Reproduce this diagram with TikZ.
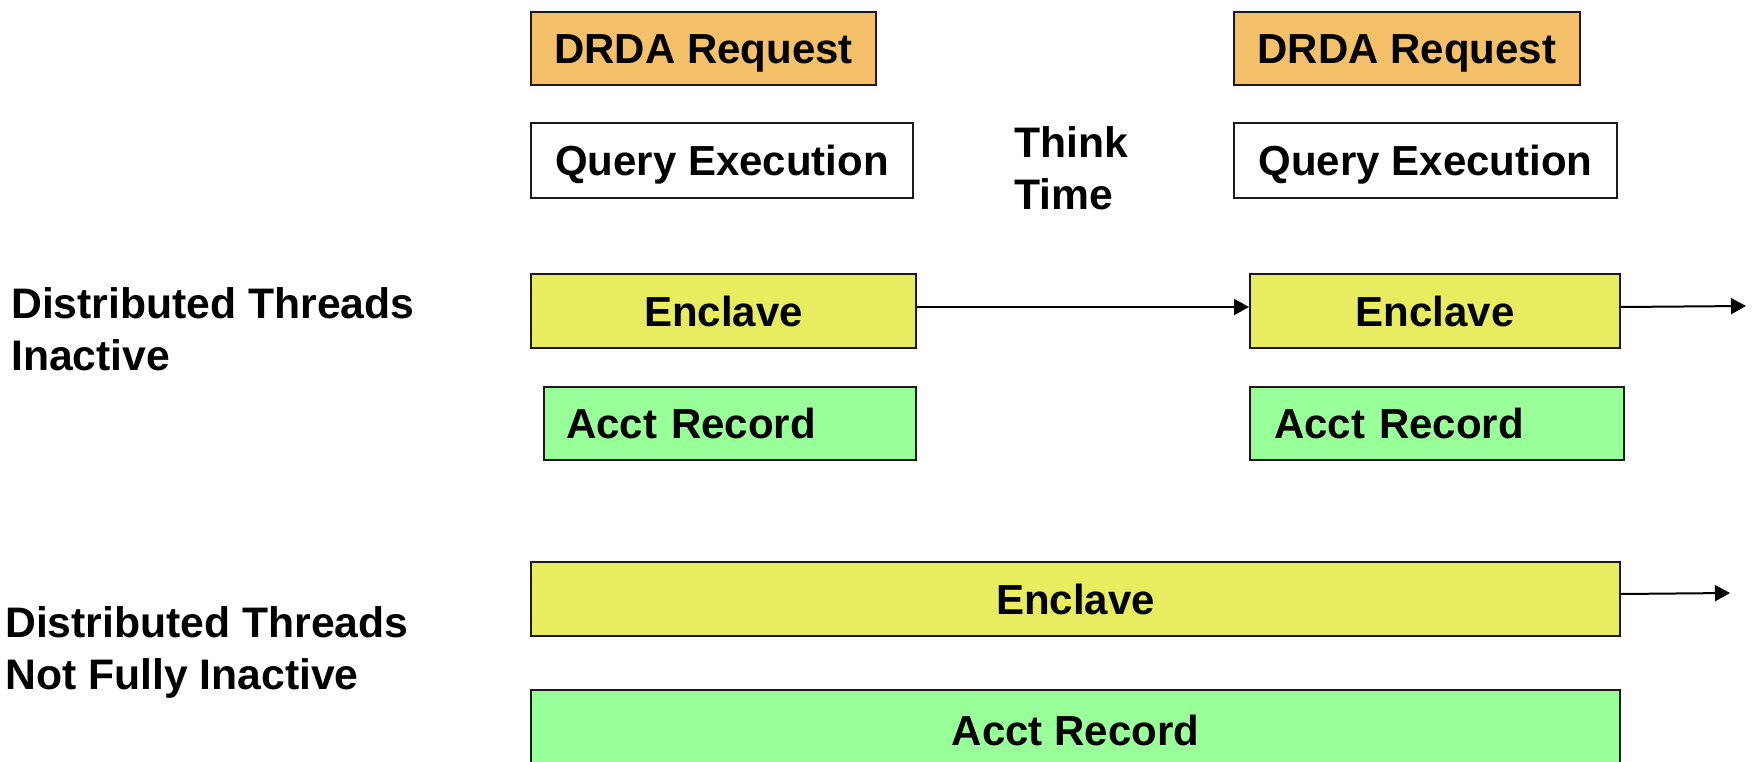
\documentclass[tikz,border=0pt]{standalone}
\usepackage{fontspec}
\setmainfont{Liberation Sans}
\usetikzlibrary{arrows.meta}
\definecolor{drdaor}{RGB}{245,192,106}
\definecolor{enclyel}{RGB}{232,236,96}
\definecolor{acctgrn}{RGB}{153,255,153}
\definecolor{edgegray}{RGB}{26,26,26}
\begin{document}
\begin{tikzpicture}[x=1pt,y=-1pt,
  every node/.style={font=\fontsize{42}{52}\selectfont\bfseries},
  tbox/.style={draw=edgegray, line width=2pt, anchor=north west, inner sep=0pt,
    text height=30pt, text depth=0pt},
  lbox/.style={tbox, align=left},
  lbl/.style={anchor=base west, inner sep=0pt, font=\fontsize{42.7}{52}\selectfont\bfseries},
  arr/.style={line width=2pt, -{Triangle[length=15pt,width=16pt]}}
]
\useasboundingbox (0,0) rectangle (1754,762);
% top row
\node[tbox, fill=drdaor, minimum width=345pt, minimum height=73pt] (drda1) at (530,11) {DRDA Request};
\node[tbox, fill=white, minimum width=382pt, minimum height=75pt] (qe1) at (530,122) {Query Execution};
\node[tbox, fill=drdaor, minimum width=346pt, minimum height=73pt] (drda2) at (1233,11) {DRDA Request};
\node[tbox, fill=white, minimum width=383pt, minimum height=75pt] (qe2) at (1233,122) {Query Execution};
\node[lbl] (think) at (1014,158) {Think};
\node[lbl] (time) at (1014,210) {Time};
% inactive row
\node[tbox, fill=enclyel, minimum width=385pt, minimum height=74pt] (enc1) at (530,273) {Enclave};
\node[lbox, fill=acctgrn, inner xsep=22pt, text width=328pt, minimum height=73pt] (acct1) at (543,386) {Acct Record};
\node[tbox, fill=enclyel, minimum width=370pt, minimum height=74pt] (enc2) at (1249,273) {Enclave};
\node[lbox, fill=acctgrn, inner xsep=24pt, text width=326pt, minimum height=73pt] (acct2) at (1249,386) {Acct Record};
\node[lbl] (lab1a) at (11,318) {Distributed Threads};
\node[lbl] (lab1b) at (11,370) {Inactive};
\coordinate (end1) at (1746,306);
\draw[arr] ([yshift=4pt]enc1.east) -- ([yshift=4pt]enc2.west);
\draw[arr] ([yshift=4pt]enc2.east) -- (end1);
% not fully inactive row
\node[tbox, fill=enclyel, minimum width=1089pt, minimum height=74pt] (encb) at (530,561) {Enclave};
\node[tbox, fill=acctgrn, minimum width=1089pt, minimum height=80pt] (acctb) at (530,689) {Acct Record};
\node[lbl] (lab2a) at (5,637) {Distributed Threads};
\node[lbl] (lab2b) at (5,689) {Not Fully Inactive};
\coordinate (end2) at (1730,593);
\draw[arr] ([yshift=5pt]encb.east) -- (end2);
\end{tikzpicture}
\end{document}
